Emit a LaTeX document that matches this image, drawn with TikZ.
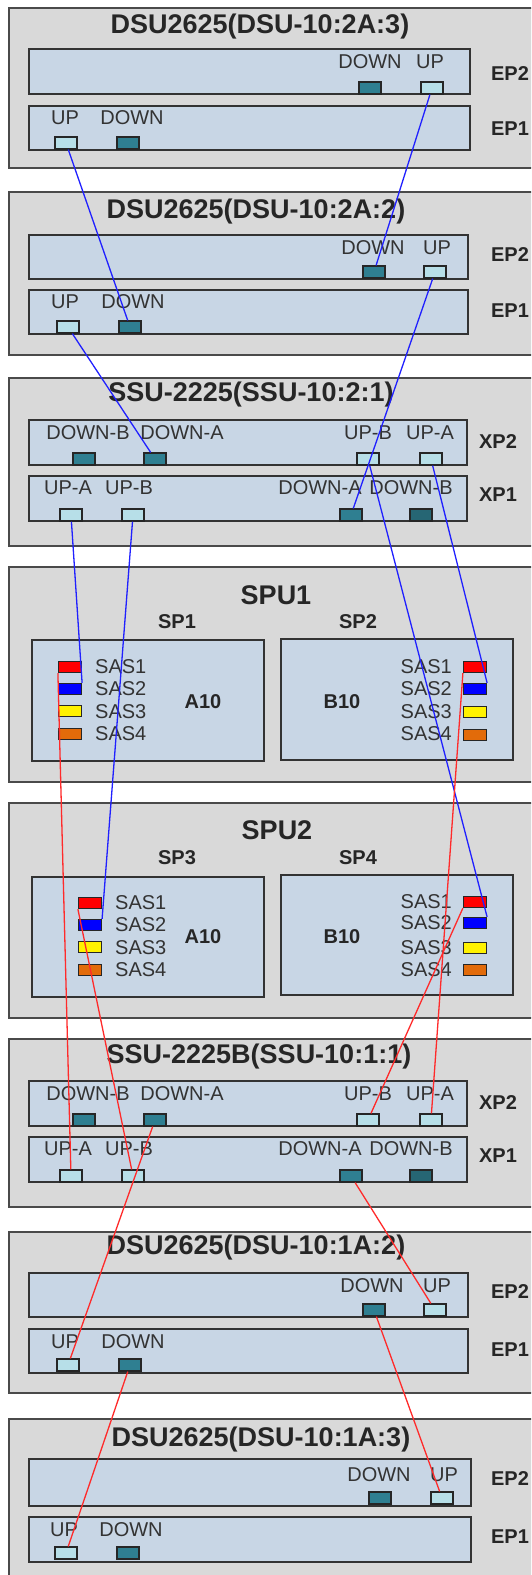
\documentclass[tikz,border=0pt]{standalone}
\usepackage{fontspec}
\setmainfont{Liberation Sans}
\definecolor{shelfgray}{HTML}{D9D9D9}
\definecolor{shelfedge}{HTML}{4A4A4A}
\definecolor{boardblue}{HTML}{C8D6E5}
\definecolor{boardedge}{HTML}{333333}
\definecolor{portdark}{HTML}{2F7F91}
\definecolor{portlight}{HTML}{B7DFE8}
\definecolor{sasorange}{HTML}{E26B0A}
\definecolor{wireblue}{HTML}{2020FF}
\definecolor{wirered}{HTML}{FF2A2A}

\begin{document}
\begin{tikzpicture}[x=1pt, y=-1pt,
    shelf/.style={draw=shelfedge, line width=1.3pt, fill=shelfgray},
    board/.style={draw=boardedge, line width=1.6pt, fill=boardblue},
    dnport/.style={draw=black!85, line width=1.2pt, fill=portdark, minimum width=22pt, minimum height=12pt, inner sep=0pt},
    upport/.style={dnport, fill=portlight},
    sasport/.style={draw=black!85, line width=1.2pt, minimum width=23pt, minimum height=11pt, inner sep=0pt},
    lbl/.style={inner sep=0pt, text=black!80, font=\fontsize{20}{22}\selectfont},
    sidetag/.style={inner sep=0pt, text=black!85, font=\fontsize{20}{22}\selectfont\bfseries},
    unittitle/.style={inner sep=0pt, text=black!85, font=\fontsize{27}{30}\selectfont\bfseries},
    bluewire/.style={draw=wireblue, line width=1.3pt},
    redwire/.style={draw=wirered, line width=1.3pt}]
    \useasboundingbox (0,0) rectangle (531,1575);
    \clip (0,0) rectangle (531,1575);

    % DSU-10:2A:3
    \begin{scope}[shift={(0,8)}]
        \draw[shelf] (9,0) rectangle (545,160);
        \node[unittitle] (dA3-title) at (260,19) {DSU2625(DSU-10:2A:3)};
        \draw[board] (29,41) rectangle (470,86);
        \draw[board] (29,98) rectangle (470,142);
        \node[sidetag] (dA3-ep2) at (510,66) {EP2};
        \node[sidetag] (dA3-ep1) at (510,121) {EP1};
        \node[lbl] (dA3-l2down) at (370,54) {DOWN};
        \node[lbl] (dA3-l2up) at (430,54) {UP};
        \node[dnport] (dA3-ep2-down) at (370,80) {};
        \node[upport] (dA3-ep2-up) at (432,80) {};
        \node[lbl] (dA3-l1up) at (65,110) {UP};
        \node[lbl] (dA3-l1down) at (132,110) {DOWN};
        \node[upport] (dA3-ep1-up) at (66,135) {};
        \node[dnport] (dA3-ep1-down) at (128,135) {};
    \end{scope}

    % DSU-10:2A:2
    \begin{scope}[shift={(0,192)}]
        \draw[shelf] (9,0) rectangle (545,163);
        \node[unittitle] (dA2-title) at (256,20) {DSU2625(DSU-10:2A:2)};
        \draw[board] (29,43) rectangle (468,87);
        \draw[board] (29,98) rectangle (468,142);
        \node[sidetag] (dA2-ep2) at (510,63) {EP2};
        \node[sidetag] (dA2-ep1) at (510,119) {EP1};
        \node[lbl] (dA2-l2down) at (373,56) {DOWN};
        \node[lbl] (dA2-l2up) at (437,56) {UP};
        \node[dnport] (dA2-ep2-down) at (374,80) {};
        \node[upport] (dA2-ep2-up) at (435,80) {};
        \node[lbl] (dA2-l1up) at (65,110) {UP};
        \node[lbl] (dA2-l1down) at (133,110) {DOWN};
        \node[upport] (dA2-ep1-up) at (68,135) {};
        \node[dnport] (dA2-ep1-down) at (130,135) {};
    \end{scope}

    % SSU-10:2:1
    \begin{scope}[shift={(0,378)}]
        \draw[shelf] (9,0) rectangle (545,168);
        \node[unittitle] (ssu2-title) at (251,17) {SSU-2225(SSU-10:2:1)};
        \draw[board] (29,42) rectangle (467,87);
        \draw[board] (29,98) rectangle (467,143);
        \node[sidetag] (ssu2-xp2) at (498,64) {XP2};
        \node[sidetag] (ssu2-xp1) at (498,117) {XP1};
        \node[lbl] (ssu2-ldownb2) at (88,55) {DOWN-B};
        \node[lbl] (ssu2-ldowna2) at (182,55) {DOWN-A};
        \node[lbl] (ssu2-lupb2) at (368,55) {UP-B};
        \node[lbl] (ssu2-lupa2) at (430,55) {UP-A};
        \node[dnport] (ssu2-xp2-downb) at (84,81) {};
        \node[dnport] (ssu2-xp2-downa) at (155,81) {};
        \node[upport] (ssu2-xp2-upb) at (368,81) {};
        \node[upport] (ssu2-xp2-upa) at (431,81) {};
        \node[lbl] (ssu2-lupa1) at (68,110) {UP-A};
        \node[lbl] (ssu2-lupb1) at (129,110) {UP-B};
        \node[lbl] (ssu2-ldowna1) at (320,110) {DOWN-A};
        \node[lbl] (ssu2-ldownb1) at (411,110) {DOWN-B};
        \node[upport] (ssu2-xp1-upa) at (71,137) {};
        \node[upport] (ssu2-xp1-upb) at (133,137) {};
        \node[dnport] (ssu2-xp1-downa) at (351,137) {};
        \node[dnport, fill=portdark!80!black] (ssu2-xp1-downb) at (421,137) {};
    \end{scope}

    % SPU1
    \begin{scope}[shift={(0,567)}]
        \draw[shelf] (9,0) rectangle (545,215);
        \node[unittitle] (spu1-title) at (276,28) {SPU1};
        \node[sidetag] (spu1-sp1) at (177,55) {SP1};
        \node[sidetag] (spu1-sp2) at (358,55) {SP2};
        \draw[board] (32,73) rectangle (264,194);
        \draw[board] (281,72) rectangle (513,193);
        \node[sidetag] (spu1-a10) at (203,135) {A10};
        \node[sidetag] (spu1-b10) at (342,135) {B10};
        \node[sasport, fill=red] (sp1-sas1) at (70,100) {};
        \node[sasport, fill=blue] (sp1-sas2) at (70,122) {};
        \node[sasport, fill=yellow] (sp1-sas3) at (70,144) {};
        \node[sasport, fill=sasorange] (sp1-sas4) at (70,167) {};
        \node[lbl, anchor=west] (sp1-l1) at (95,100) {SAS1};
        \node[lbl, anchor=west] (sp1-l2) at (95,122) {SAS2};
        \node[lbl, anchor=west] (sp1-l3) at (95,145) {SAS3};
        \node[lbl, anchor=west] (sp1-l4) at (95,167) {SAS4};
        \node[sasport, fill=red] (sp2-sas1) at (475,100) {};
        \node[sasport, fill=blue] (sp2-sas2) at (475,122) {};
        \node[sasport, fill=yellow] (sp2-sas3) at (475,145) {};
        \node[sasport, fill=sasorange] (sp2-sas4) at (475,168) {};
        \node[lbl, anchor=east] (sp2-l1) at (452,100) {SAS1};
        \node[lbl, anchor=east] (sp2-l2) at (452,122) {SAS2};
        \node[lbl, anchor=east] (sp2-l3) at (452,145) {SAS3};
        \node[lbl, anchor=east] (sp2-l4) at (452,167) {SAS4};
    \end{scope}

    % SPU2
    \begin{scope}[shift={(0,803)}]
        \draw[shelf] (9,0) rectangle (545,215);
        \node[unittitle] (spu2-title) at (277,27) {SPU2};
        \node[sidetag] (spu2-sp3) at (177,55) {SP3};
        \node[sidetag] (spu2-sp4) at (358,55) {SP4};
        \draw[board] (32,74) rectangle (264,194);
        \draw[board] (281,72) rectangle (513,192);
        \node[sidetag] (spu2-a10) at (203,134) {A10};
        \node[sidetag] (spu2-b10) at (342,134) {B10};
        \node[sasport, fill=red] (sp3-sas1) at (90,100) {};
        \node[sasport, fill=blue] (sp3-sas2) at (90,122) {};
        \node[sasport, fill=yellow] (sp3-sas3) at (90,144) {};
        \node[sasport, fill=sasorange] (sp3-sas4) at (90,167) {};
        \node[lbl, anchor=west] (sp3-l1) at (115,100) {SAS1};
        \node[lbl, anchor=west] (sp3-l2) at (115,122) {SAS2};
        \node[lbl, anchor=west] (sp3-l3) at (115,145) {SAS3};
        \node[lbl, anchor=west] (sp3-l4) at (115,167) {SAS4};
        \node[sasport, fill=red] (sp4-sas1) at (475,99) {};
        \node[sasport, fill=blue] (sp4-sas2) at (475,120) {};
        \node[sasport, fill=yellow] (sp4-sas3) at (475,145) {};
        \node[sasport, fill=sasorange] (sp4-sas4) at (475,167) {};
        \node[lbl, anchor=east] (sp4-l1) at (452,99) {SAS1};
        \node[lbl, anchor=east] (sp4-l2) at (452,120) {SAS2};
        \node[lbl, anchor=east] (sp4-l3) at (452,145) {SAS3};
        \node[lbl, anchor=east] (sp4-l4) at (452,167) {SAS4};
    \end{scope}

    % SSU-10:1:1
    \begin{scope}[shift={(0,1039)}]
        \draw[shelf] (9,0) rectangle (545,168);
        \node[unittitle] (ssu1-title) at (259,18) {SSU-2225B(SSU-10:1:1)};
        \draw[board] (29,42) rectangle (467,87);
        \draw[board] (29,98) rectangle (467,143);
        \node[sidetag] (ssu1-xp2) at (498,64) {XP2};
        \node[sidetag] (ssu1-xp1) at (498,117) {XP1};
        \node[lbl] (ssu1-ldownb2) at (88,55) {DOWN-B};
        \node[lbl] (ssu1-ldowna2) at (182,55) {DOWN-A};
        \node[lbl] (ssu1-lupb2) at (368,55) {UP-B};
        \node[lbl] (ssu1-lupa2) at (430,55) {UP-A};
        \node[dnport] (ssu1-xp2-downb) at (84,81) {};
        \node[dnport] (ssu1-xp2-downa) at (155,81) {};
        \node[upport] (ssu1-xp2-upb) at (368,81) {};
        \node[upport] (ssu1-xp2-upa) at (431,81) {};
        \node[lbl] (ssu1-lupa1) at (68,110) {UP-A};
        \node[lbl] (ssu1-lupb1) at (129,110) {UP-B};
        \node[lbl] (ssu1-ldowna1) at (320,110) {DOWN-A};
        \node[lbl] (ssu1-ldownb1) at (411,110) {DOWN-B};
        \node[upport] (ssu1-xp1-upa) at (71,137) {};
        \node[upport] (ssu1-xp1-upb) at (133,137) {};
        \node[dnport] (ssu1-xp1-downa) at (351,137) {};
        \node[dnport, fill=portdark!80!black] (ssu1-xp1-downb) at (421,137) {};
    \end{scope}

    % DSU-10:1A:2
    \begin{scope}[shift={(0,1232)}]
        \draw[shelf] (9,0) rectangle (545,161);
        \node[unittitle] (dB2-title) at (256,16) {DSU2625(DSU-10:1A:2)};
        \draw[board] (29,41) rectangle (468,85);
        \draw[board] (29,97) rectangle (468,141);
        \node[sidetag] (dB2-ep2) at (510,60) {EP2};
        \node[sidetag] (dB2-ep1) at (510,118) {EP1};
        \node[lbl] (dB2-l2down) at (372,54) {DOWN};
        \node[lbl] (dB2-l2up) at (437,54) {UP};
        \node[dnport] (dB2-ep2-down) at (374,78) {};
        \node[upport] (dB2-ep2-up) at (435,78) {};
        \node[lbl] (dB2-l1up) at (65,110) {UP};
        \node[lbl] (dB2-l1down) at (133,110) {DOWN};
        \node[upport] (dB2-ep1-up) at (68,133) {};
        \node[dnport] (dB2-ep1-down) at (130,133) {};
    \end{scope}

    % DSU-10:1A:3
    \begin{scope}[shift={(0,1419)}]
        \draw[shelf] (9,0) rectangle (545,175);
        \node[unittitle] (dB3-title) at (261,21) {DSU2625(DSU-10:1A:3)};
        \draw[board] (29,40) rectangle (471,87);
        \draw[board] (29,98) rectangle (471,143);
        \node[sidetag] (dB3-ep2) at (510,59) {EP2};
        \node[sidetag] (dB3-ep1) at (510,118) {EP1};
        \node[lbl] (dB3-l2down) at (379,56) {DOWN};
        \node[lbl] (dB3-l2up) at (444,56) {UP};
        \node[dnport] (dB3-ep2-down) at (380,79) {};
        \node[upport] (dB3-ep2-up) at (442,79) {};
        \node[lbl] (dB3-l1up) at (64,111) {UP};
        \node[lbl] (dB3-l1down) at (131,111) {DOWN};
        \node[upport] (dB3-ep1-up) at (66,134) {};
        \node[dnport] (dB3-ep1-down) at (128,134) {};
    \end{scope}

    % Blue chain
    \draw[bluewire] (dA3-ep1-up) -- (dA2-ep1-down);
    \draw[bluewire] (dA3-ep2-up) -- (dA2-ep2-down);
    \draw[bluewire] (dA2-ep1-up) -- (ssu2-xp2-downa);
    \draw[bluewire] (dA2-ep2-up) -- (ssu2-xp1-downa);
    \draw[bluewire] (ssu2-xp1-upa) -- (sp1-sas2.north east);
    \draw[bluewire] (ssu2-xp1-upb) -- (sp3-sas2.north east);
    \draw[bluewire] (ssu2-xp2-upb) -- (sp4-sas2.north east);
    \draw[bluewire] (ssu2-xp2-upa) -- (sp2-sas2.north east);

    % Red chain
    \draw[redwire] (sp1-sas1.south west) -- (ssu1-xp1-upa);
    \draw[redwire] (sp3-sas1.south west) -- (ssu1-xp1-upb);
    \draw[redwire] (sp4-sas1.south west) -- (ssu1-xp2-upb);
    \draw[redwire] (sp2-sas1.south west) -- (ssu1-xp2-upa);
    \draw[redwire] (ssu1-xp2-downa) -- (dB2-ep1-up);
    \draw[redwire] (ssu1-xp1-downa) -- (dB2-ep2-up);
    \draw[redwire] (dB2-ep1-down) -- (dB3-ep1-up);
    \draw[redwire] (dB2-ep2-down) -- (dB3-ep2-up);
\end{tikzpicture}
\end{document}
